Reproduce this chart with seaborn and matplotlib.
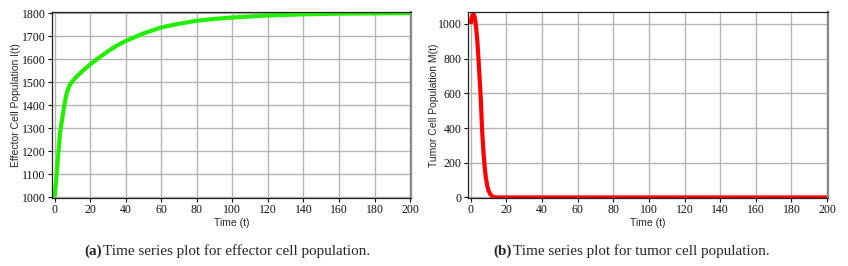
import matplotlib
matplotlib.use("Agg")
import matplotlib.pyplot as plt
import seaborn as sns
import pandas as pd

# Effector cell population I(t)
t_effector = [0, 1, 2, 3, 4, 5, 6, 7, 8, 9, 10, 12, 15, 20, 25, 30, 35, 40, 50, 60, 70, 80, 90, 100, 120, 140, 160, 180, 200]
effector = [1000, 1090, 1185, 1278, 1330, 1380, 1425, 1460, 1480, 1495, 1505, 1522, 1545, 1578, 1608, 1635, 1660, 1680, 1713, 1739, 1755, 1768, 1776, 1782, 1791, 1796, 1799, 1800, 1801]

# Tumor cell population M(t)
t_tumor = [0, 0.5, 1, 1.5, 2, 2.5, 3, 3.7, 4.5, 5.6, 6.5, 7.2, 7.8, 8.5, 9.3, 10, 11, 12, 13, 14, 16, 20, 40, 60, 80, 100, 120, 140, 160, 180, 200]
tumor = [1000, 1035, 1052, 1057, 1050, 1025, 985, 908, 780, 583, 373, 260, 182, 115, 67, 40, 19, 8, 3, 1, 0, 0, 0, 0, 0, 0, 0, 0, 0, 0, 0]

xticks = [0, 20, 40, 60, 80, 100, 120, 140, 160, 180, 200]

sns.set_style("white")
plt.rcParams["font.family"] = ["Liberation Serif", "DejaVu Serif"]

fig = plt.figure(figsize=(8.48, 2.66), dpi=100)
W, H = 848, 266
ax1 = fig.add_axes([52 / W, 1 - 198 / H, (411 - 52) / W, (198 - 12) / H])
ax2 = fig.add_axes([468 / W, 1 - 198 / H, (828 - 468) / W, (198 - 12) / H])

df1 = pd.DataFrame({"t": t_effector, "v": effector})
df2 = pd.DataFrame({"t": t_tumor, "v": tumor})

sns.lineplot(data=df1, x="t", y="v", ax=ax1, color="#22ee00", linewidth=3.0, solid_capstyle="butt")
sns.lineplot(data=df2, x="t", y="v", ax=ax2, color="#ff0000", linewidth=3.0, solid_capstyle="butt")

ax1.set_xlim(-1.5, 200.5)
ax1.set_ylim(997, 1806)
ax1.set_yticks([1000, 1100, 1200, 1300, 1400, 1500, 1600, 1700, 1800])
ax2.set_xlim(-1.5, 200.5)
ax2.set_ylim(-3, 1069)
ax2.set_yticks([0, 200, 400, 600, 800, 1000])

for ax, ylab, lp in [(ax1, "Effector Cell Population I(t)", 0.5), (ax2, "Tumor Cell Population M(t)", -1)]:
    ax.set_xticks(xticks)
    ax.grid(True, color="#b4b4b4", linewidth=1.0)
    ax.set_axisbelow(True)
    ax.tick_params(axis="both", which="major", labelsize=8.5, length=3, width=0.8,
                   direction="out", pad=1.5, bottom=True, left=True, colors="#111111")
    ax.set_xlabel("Time (t)", fontsize=7.5, family=["Liberation Sans", "DejaVu Sans"], labelpad=1)
    ax.set_ylabel(ylab, fontsize=7.5, family=["Liberation Sans", "DejaVu Sans"], labelpad=lp)
    for s in ["left", "bottom", "top"]:
        ax.spines[s].set_color("#222222")
        ax.spines[s].set_linewidth(0.9)
    ax.spines["right"].set_color("#888888")
    ax.spines["right"].set_linewidth(1.6)

fig.text(84 / W, 1 - 251 / H, "(a)", fontsize=10.9, fontweight="bold", va="center", ha="left")
fig.text(103 / W, 1 - 251 / H, "Time series plot for effector cell population.", fontsize=10.9, va="center", ha="left")
fig.text(493 / W, 1 - 251 / H, "(b)", fontsize=10.9, fontweight="bold", va="center", ha="left")
fig.text(513 / W, 1 - 251 / H, "Time series plot for tumor cell population.", fontsize=10.9, va="center", ha="left")

fig.savefig("out.png", dpi=100)
